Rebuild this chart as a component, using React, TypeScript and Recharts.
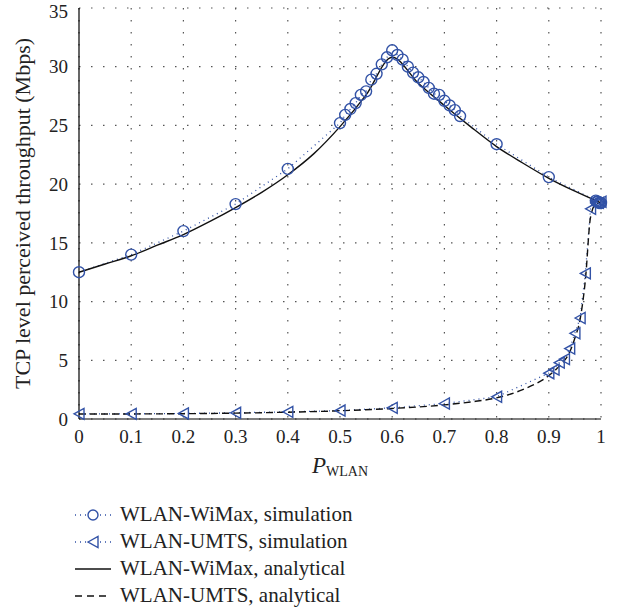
import { LineChart, Line, XAxis, YAxis, CartesianGrid } from 'recharts'

// P_WLAN vs TCP throughput (Mbps)
const wimaxSimP = [0, 0.1, 0.2, 0.3, 0.4, 0.5, 0.51, 0.52, 0.53, 0.54, 0.55, 0.56, 0.57, 0.58, 0.59, 0.6,
  0.61, 0.62, 0.63, 0.64, 0.65, 0.66, 0.67, 0.68, 0.69, 0.7, 0.71, 0.72, 0.73, 0.8, 0.9,
  0.99, 0.992, 0.994, 0.996, 0.998, 1]
const wimaxSimT = [12.5, 14.0, 16.0, 18.3, 21.3, 25.2, 25.9, 26.4, 26.9, 27.6, 27.9, 28.9, 29.4, 30.2, 30.8, 31.4,
  31.0, 30.6, 30.0, 29.5, 29.1, 28.7, 28.2, 27.7, 27.6, 27.1, 26.7, 26.3, 25.8, 23.4, 20.6,
  18.6, 18.5, 18.5, 18.4, 18.4, 18.4]

const umtsSimP = [0, 0.1, 0.2, 0.3, 0.4, 0.5, 0.6, 0.7, 0.8, 0.9, 0.91, 0.92, 0.93, 0.94, 0.95, 0.96, 0.97, 0.98,
  0.99, 0.995, 1]
const umtsSimT = [0.44, 0.44, 0.47, 0.53, 0.61, 0.72, 0.95, 1.32, 1.89, 3.9, 4.2, 4.8, 5.1, 6.0, 7.3, 8.6, 12.4, 17.9,
  18.4, 18.4, 18.5]

const wimaxAnaP = [0, 0.05, 0.1, 0.15, 0.2, 0.25, 0.3, 0.35, 0.4, 0.45, 0.5, 0.55, 0.6,
  0.65, 0.7, 0.75, 0.8, 0.85, 0.9, 0.95, 1]
const wimaxAnaT = [12.5, 13.2, 13.9, 14.8, 15.7, 16.8, 18.0, 19.3, 20.8, 22.6, 24.9, 27.6, 30.8,
  28.6, 26.7, 24.9, 23.2, 21.8, 20.5, 19.4, 18.4]

const umtsAnaP = [0, 0.1, 0.2, 0.3, 0.4, 0.5, 0.6, 0.7, 0.75, 0.8, 0.85, 0.9, 0.92, 0.94, 0.95, 0.96, 0.97, 0.98, 0.99, 1]
const umtsAnaT = [0.42, 0.43, 0.45, 0.5, 0.58, 0.7, 0.9, 1.2, 1.45, 1.8, 2.5, 3.7, 4.5, 5.7, 6.9, 8.5, 11.8, 17.2, 18.3, 18.4]

const xTicks = [0, 0.1, 0.2, 0.3, 0.4, 0.5, 0.6, 0.7, 0.8, 0.9, 1]
const yTicks = [0, 5, 10, 15, 20, 25, 30, 35]

const legendLabels = [
  'WLAN-WiMax, simulation',
  'WLAN-UMTS, simulation',
  'WLAN-WiMax, analytical',
  'WLAN-UMTS, analytical',
]

const zip = (xs: number[], ys: number[]) => xs.map((x, i) => ({ x, y: ys[i] }))

const wimaxSim = zip(wimaxSimP, wimaxSimT)
const umtsSim = zip(umtsSimP, umtsSimT)
const wimaxAna = zip(wimaxAnaP, wimaxAnaT)
const umtsAna = zip(umtsAnaP, umtsAnaT)

const BLUE = '#3252a6'
const FONT = '"Liberation Serif", "Times New Roman", serif'

function circleDot(p: any) {
  if (p.cx == null || p.cy == null) return <g key={`c${p.index}`} />
  return <circle key={`c${p.index}`} cx={p.cx} cy={p.cy} r={5.5} fill="none" stroke={BLUE} strokeWidth={1.4} />
}

function triangleDot(p: any) {
  if (p.cx == null || p.cy == null) return <g key={`t${p.index}`} />
  const { cx, cy } = p
  return (
    <polygon
      key={`t${p.index}`}
      points={`${cx - 5},${cy} ${cx + 5},${cy - 5.5} ${cx + 5},${cy + 5.5}`}
      fill="none"
      stroke={BLUE}
      strokeWidth={1.4}
    />
  )
}

function XLabel({ viewBox }: any) {
  const cx = viewBox.x + viewBox.width / 2
  return (
    <text x={cx} y={viewBox.y + 54} textAnchor="middle" fill="#222" fontFamily={FONT}>
      <tspan fontStyle="italic" fontSize={23}>P</tspan>
      <tspan fontSize={14} dy={3}>WLAN</tspan>
    </text>
  )
}

function YLabel({ viewBox }: any) {
  const x = 22
  const y = viewBox.y + viewBox.height / 2
  return (
    <text
      x={x}
      y={y}
      transform={`rotate(-90, ${x}, ${y})`}
      textAnchor="middle"
      dominantBaseline="central"
      fill="#222"
      fontFamily={FONT}
      fontSize={22}
    >
      TCP level perceived throughput (Mbps)
    </text>
  )
}

function LegendSample({ kind }: { kind: number }) {
  return (
    <svg width={40} height={20} style={{ display: 'block' }}>
      {kind < 2 && (
        <line x1={2} y1={10} x2={38} y2={10} stroke={BLUE} strokeWidth={1.3} strokeDasharray="1 4" />
      )}
      {kind === 0 && <circle cx={20} cy={10} r={5} fill="white" stroke={BLUE} strokeWidth={1.4} />}
      {kind === 1 && (
        <polygon points="15,10 25,4.5 25,15.5" fill="white" stroke={BLUE} strokeWidth={1.4} />
      )}
      {kind === 2 && <line x1={2} y1={10} x2={38} y2={10} stroke="#111" strokeWidth={1.3} />}
      {kind === 3 && (
        <line x1={2} y1={10} x2={38} y2={10} stroke="#111" strokeWidth={1.3} strokeDasharray="7 5" />
      )}
    </svg>
  )
}

export default function App() {
  return (
    <div style={{ position: 'absolute', left: 0, top: 0, width: 619, height: 613, background: '#fff', fontFamily: FONT }}>
      <LineChart width={619} height={490} margin={{ top: 8, right: 18, left: 0, bottom: 0 }}>
        <CartesianGrid stroke="#555" strokeDasharray="1.5 10.5" strokeWidth={1.2} />
        <XAxis
          dataKey="x"
          type="number"
          domain={[0, 1]}
          ticks={xTicks}
          tickFormatter={(v) => String(v)}
          height={71}
          tickLine={false}
          tickSize={0}
          tickMargin={11}
          axisLine={{ stroke: '#000', strokeWidth: 1.2 }}
          tick={{ fill: '#222', fontSize: 19, fontFamily: FONT }}
          label={{ content: XLabel }}
        />
        <YAxis
          type="number"
          domain={[0, 35]}
          ticks={yTicks}
          width={79}
          tickLine={false}
          tickSize={0}
          tickMargin={11}
          axisLine={{ stroke: '#000', strokeWidth: 1.2 }}
          tick={{ fill: '#222', fontSize: 19, fontFamily: FONT }}
          label={{ content: YLabel }}
        />
        <XAxis
          xAxisId="top"
          orientation="top"
          type="number"
          domain={[0, 1]}
          ticks={xTicks}
          height={0}
          mirror
          tick={false}
          tickSize={5}
          tickLine={{ stroke: '#000' }}
          axisLine={{ stroke: '#555', strokeWidth: 2 }}
        />
        <YAxis
          yAxisId="right"
          orientation="right"
          type="number"
          domain={[0, 35]}
          ticks={yTicks}
          width={0}
          mirror
          tick={false}
          tickSize={5}
          tickLine={{ stroke: '#000' }}
          axisLine={{ stroke: '#555', strokeWidth: 2 }}
        />
        <Line
          data={wimaxSim}
          dataKey="y"
          type="linear"
          stroke={BLUE}
          strokeWidth={1.3}
          strokeDasharray="1 4"
          dot={circleDot}
          isAnimationActive={false}
        />
        <Line
          data={umtsSim}
          dataKey="y"
          type="linear"
          stroke={BLUE}
          strokeWidth={1.3}
          strokeDasharray="1 4"
          dot={triangleDot}
          isAnimationActive={false}
        />
        <Line
          data={wimaxAna}
          dataKey="y"
          type="monotone"
          stroke="#111"
          strokeWidth={1.4}
          dot={false}
          isAnimationActive={false}
        />
        <Line
          data={umtsAna}
          dataKey="y"
          type="monotone"
          stroke="#111"
          strokeWidth={1.4}
          strokeDasharray="7 4"
          dot={false}
          isAnimationActive={false}
        />
      </LineChart>
      <div style={{ position: 'absolute', left: 73, top: 501 }}>
        {legendLabels.map((label, i) => (
          <div key={label} style={{ display: 'flex', alignItems: 'center', height: 27 }}>
            <LegendSample kind={i} />
            <span style={{ marginLeft: 7, fontSize: 21, color: '#222', lineHeight: '27px' }}>{label}</span>
          </div>
        ))}
      </div>
    </div>
  )
}
